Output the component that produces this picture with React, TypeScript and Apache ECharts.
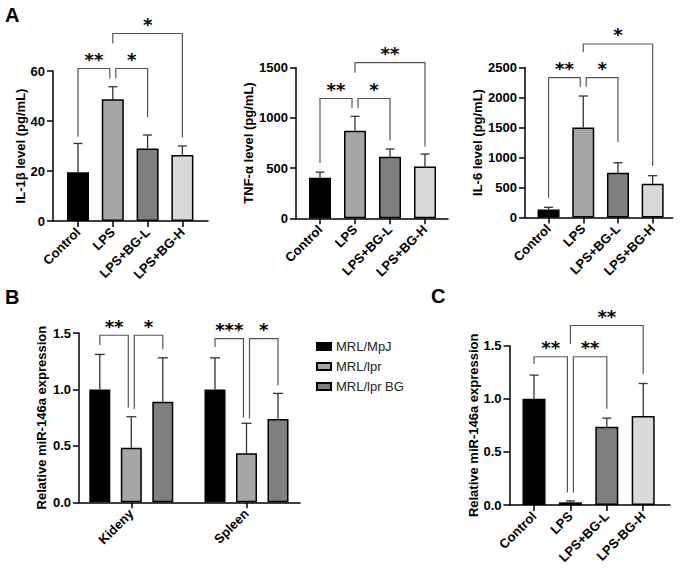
import { useEffect, useRef } from "react";
import * as echarts from "echarts";

const FONT = "'Liberation Sans', Arial, Helvetica, sans-serif";
const STAR_FONT = "'DejaVu Sans', sans-serif";

// ---- Panel A: cytokine levels ----
const groupsA = ["Control", "LPS", "LPS+BG-L", "LPS+BG-H"];
const groupFills = ["#000000", "#a6a6a6", "#7f7f7f", "#d9d9d9"];

const il1bMean = [19.5, 48.7, 29.0, 26.4];
const il1bUpper = [31.0, 53.7, 34.4, 30.0];
// [from group, to group, bracket top, from-leg end, to-leg end]
const il1bBrackets = [
  [0, 1, 61, 33.7, 57],
  [1, 2, 61, 57, 41.5],
  [1, 3, 75, 71, 33.5],
];
const il1bStars = ["**", "*", "*"];

const tnfMean = [405, 873, 613, 516];
const tnfUpper = [460, 1016, 690, 640];
const tnfBrackets = [
  [0, 1, 1193, 550, 1100],
  [1, 2, 1193, 1100, 776],
  [1, 3, 1550, 1450, 716],
];
const tnfStars = ["**", "*", "**"];

const il6Mean = [135, 1500, 747, 563];
const il6Upper = [170, 2025, 913, 697];
const il6Brackets = [
  [0, 1, 2330, 330, 2180],
  [1, 2, 2330, 2180, 1253],
  [1, 3, 2892, 2753, 858],
];
const il6Stars = ["**", "*", "*"];

// ---- Panel B: miR-146a in tissues ----
const tissues = ["Kideny", "Spleen"];
const strains = ["MRL/MpJ", "MRL/lpr", "MRL/lpr BG"];
const strainFills = ["#000000", "#a6a6a6", "#7f7f7f"];
const mpjMean = [1.0, 1.0];
const mpjUpper = [1.31, 1.28];
const lprMean = [0.483, 0.434];
const lprUpper = [0.758, 0.7];
const lprBgMean = [0.89, 0.737];
const lprBgUpper = [1.28, 0.965];
// [tissue, from strain, to strain, bracket top, from-leg end, to-leg end]
const tissueBrackets = [
  [0, 0, 1, 1.48, 1.392, 0.84],
  [0, 1, 2, 1.48, 0.826, 1.357],
  [1, 0, 1, 1.45, 1.377, 0.752],
  [1, 1, 2, 1.45, 0.743, 1.038],
];
const tissueStars = ["**", "*", "***", "*"];

// ---- Panel C: miR-146a in cells ----
const groupsC = ["Control", "LPS", "LPS+BG-L", "LPS-BG-H"];
const mirMean = [1.0, 0.025, 0.736, 0.837];
const mirUpper = [1.223, 0.038, 0.818, 1.144];
const mirBrackets = [
  [0, 1, 1.396, 1.327, 0.117],
  [1, 2, 1.396, 0.117, 0.907],
  [1, 3, 1.69, 1.517, 1.232],
];
const mirStars = ["**", "**", "**"];

type Box = { left: number; right: number; top: number; bottom: number; dataLeft: number; dataRight: number };

type Bracket = { c1: number; s1: number; c2: number; s2: number; top: number; l1: number; l2: number };

function buildOption() {
  const grid: any[] = [];
  const xAxis: any[] = [];
  const yAxis: any[] = [];
  const series: any[] = [];

  const lineStyle = { color: "#000", width: 1.5 };

  function addPanel(
    box: Box,
    cats: string[],
    max: number,
    interval: number,
    digits: number,
    name: string,
    nameGap: number
  ) {
    const frameIdx = grid.length;
    grid.push({ left: box.left, top: box.top, width: box.right - box.left, height: box.bottom - box.top });
    grid.push({ left: box.dataLeft, top: box.top, width: box.dataRight - box.dataLeft, height: box.bottom - box.top });
    // frame axes: baseline and value axis
    xAxis.push({
      gridIndex: frameIdx,
      type: "value",
      min: 0,
      max: 1,
      axisLine: { show: true, onZero: false, lineStyle },
      axisTick: { show: false },
      axisLabel: { show: false },
      splitLine: { show: false },
    });
    yAxis.push({
      gridIndex: frameIdx,
      type: "value",
      min: 0,
      max,
      interval,
      name,
      nameLocation: "middle",
      nameGap,
      nameTextStyle: { fontFamily: FONT, fontWeight: "bold", fontSize: 13, color: "#000" },
      axisLine: { show: true, lineStyle },
      axisTick: { show: true, length: 6, lineStyle },
      axisLabel: {
        fontFamily: FONT,
        fontWeight: "bold",
        fontSize: 13,
        color: "#000",
        margin: 8,
        formatter: (v: number) => v.toFixed(digits),
      },
      splitLine: { show: false },
    });
    // data axes: categories and hidden value scale
    xAxis.push({
      gridIndex: frameIdx + 1,
      type: "category",
      data: cats,
      axisLine: { show: false },
      axisTick: { show: true, alignWithLabel: true, length: 6, lineStyle },
      axisLabel: {
        interval: 0,
        rotate: 45,
        fontFamily: FONT,
        fontWeight: "bold",
        fontSize: 13,
        color: "#000",
        margin: 9,
      },
      splitLine: { show: false },
    });
    yAxis.push({ gridIndex: frameIdx + 1, type: "value", min: 0, max, show: false });
    return frameIdx + 1;
  }

  function errorSeries(axis: number, mean: number[], upper: number[], offset: number, cap: number) {
    return {
      type: "custom",
      xAxisIndex: axis,
      yAxisIndex: axis,
      silent: true,
      z: 1,
      data: mean.map((m, i) => [i, m, upper[i]]),
      renderItem: (params: any, api: any) => {
        const i = params.dataIndex;
        const base = api.coord([i, mean[i]]);
        const top = api.coord([i, upper[i]]);
        const x = base[0] + offset;
        const style = { stroke: "#333", lineWidth: 1.3 };
        return {
          type: "group",
          children: [
            { type: "line", shape: { x1: x, y1: base[1], x2: x, y2: top[1] }, style },
            { type: "line", shape: { x1: x - cap / 2, y1: top[1], x2: x + cap / 2, y2: top[1] }, style },
          ],
        };
      },
    };
  }

  function bracketSeries(axis: number, items: Bracket[], stars: string[], step: number) {
    const nudges = items.map(() => [0, 0]);
    items.forEach((a, i) =>
      items.forEach((b, j) => {
        if (i !== j && a.top === b.top && a.c2 === b.c1 && a.s2 === b.s1) {
          nudges[i][1] = -3;
          nudges[j][0] = 3;
        }
      })
    );
    return {
      type: "custom",
      xAxisIndex: axis,
      yAxisIndex: axis,
      silent: true,
      clip: false,
      z: 4,
      data: items.map((b) => [b.c1, b.top]),
      renderItem: (params: any, api: any) => {
        const k = params.dataIndex;
        const b = items[k];
        const top = api.coord([b.c1, b.top]);
        const x1 = top[0] + b.s1 * step + nudges[k][0];
        const x2 = api.coord([b.c2, b.top])[0] + b.s2 * step + nudges[k][1];
        const y1 = api.coord([b.c1, b.l1])[1];
        const y2 = api.coord([b.c2, b.l2])[1];
        const yT = top[1];
        return {
          type: "group",
          children: [
            {
              type: "polyline",
              shape: { points: [[x1, y1], [x1, yT], [x2, yT], [x2, y2]] },
              style: { stroke: "#555", fill: null, lineWidth: 1.2 },
            },
            {
              type: "text",
              x: (x1 + x2) / 2,
              y: yT - 9,
              style: {
                text: stars[k],
                align: "center",
                verticalAlign: "middle",
                fontFamily: STAR_FONT,
                fontWeight: "bold",
                fontSize: 18,
                fill: "#000",
              },
            },
          ],
        };
      },
    };
  }

  const simple = (rows: number[][]): Bracket[] =>
    rows.map((r) => ({ c1: r[0], s1: 0, c2: r[1], s2: 0, top: r[2], l1: r[3], l2: r[4] }));

  function groupPanel(
    box: Box,
    cats: string[],
    mean: number[],
    upper: number[],
    brackets: number[][],
    stars: string[],
    max: number,
    interval: number,
    digits: number,
    name: string,
    nameGap: number,
    barWidth: number
  ) {
    const axis = addPanel(box, cats, max, interval, digits, name, nameGap);
    series.push({
      type: "bar",
      xAxisIndex: axis,
      yAxisIndex: axis,
      silent: true,
      barWidth,
      z: 2,
      itemStyle: { borderColor: "#000", borderWidth: 1.5 },
      data: mean.map((v, i) => ({ value: v, itemStyle: { color: groupFills[i] } })),
    });
    series.push(errorSeries(axis, mean, upper, 0, 9));
    series.push(bracketSeries(axis, simple(brackets), stars, 0));
  }

  groupPanel(
    { left: 53, right: 208, top: 71, bottom: 221, dataLeft: 60.6, dataRight: 199.8 },
    groupsA, il1bMean, il1bUpper, il1bBrackets, il1bStars, 60, 20, 0, "IL-1β level (pg/mL)", 24, 22
  );
  groupPanel(
    { left: 296, right: 448, top: 67.7, bottom: 218.3, dataLeft: 302.5, dataRight: 442.5 },
    groupsA, tnfMean, tnfUpper, tnfBrackets, tnfStars, 1500, 500, 0, "TNF-α level (pg/mL)", 39, 22
  );
  groupPanel(
    { left: 525, right: 672.7, top: 67.5, bottom: 217.5, dataLeft: 531.2, dataRight: 670 },
    groupsA, il6Mean, il6Upper, il6Brackets, il6Stars, 2500, 500, 0, "IL-6 level (pg/mL)", 36, 22
  );

  // Panel B: grouped bars by tissue
  const axisB = addPanel(
    { left: 79, right: 300, top: 333, bottom: 502.3, dataLeft: 73.7, dataRight: 304.1 },
    tissues, 1.5, 0.5, 1, "Relative miR-146a expression", 31
  );
  const barWidthB = 21;
  const stepB = barWidthB * 1.5;
  const strainMeans = [mpjMean, lprMean, lprBgMean];
  const strainUppers = [mpjUpper, lprUpper, lprBgUpper];
  strains.forEach((s, k) => {
    series.push({
      type: "bar",
      name: s,
      xAxisIndex: axisB,
      yAxisIndex: axisB,
      silent: true,
      barWidth: barWidthB,
      barGap: "50%",
      z: 2,
      itemStyle: { color: strainFills[k], borderColor: "#000", borderWidth: 1.5 },
      data: strainMeans[k],
    });
    series.push(errorSeries(axisB, strainMeans[k], strainUppers[k], (k - 1) * stepB, 10));
  });
  series.push(
    bracketSeries(
      axisB,
      tissueBrackets.map((r) => ({ c1: r[0], s1: r[1] - 1, c2: r[0], s2: r[2] - 1, top: r[3], l1: r[4], l2: r[5] })),
      tissueStars,
      stepB
    )
  );

  groupPanel(
    { left: 509.5, right: 670, top: 345.7, bottom: 505, dataLeft: 515.8, dataRight: 661.4 },
    groupsC, mirMean, mirUpper, mirBrackets, mirStars, 1.5, 0.5, 1, "Relative miR-146a expression", 25, 23
  );

  return {
    animation: false,
    backgroundColor: "#fff",
    textStyle: { fontFamily: FONT },
    grid,
    xAxis,
    yAxis,
    series,
    legend: {
      data: strains,
      orient: "vertical",
      left: 311,
      top: 335,
      icon: "rect",
      itemWidth: 14,
      itemHeight: 7,
      itemGap: 7,
      selectedMode: false,
      textStyle: { fontFamily: FONT, fontSize: 13, color: "#222" },
    },
    graphic: [
      { type: "text", x: 5, y: 5, style: { text: "A", fontFamily: FONT, fontWeight: "bold", fontSize: 20, fill: "#000" } },
      { type: "text", x: 5, y: 287, style: { text: "B", fontFamily: FONT, fontWeight: "bold", fontSize: 20, fill: "#000" } },
      { type: "text", x: 431, y: 286, style: { text: "C", fontFamily: FONT, fontWeight: "bold", fontSize: 20, fill: "#000" } },
    ],
  };
}

export default function App() {
  const ref = useRef<HTMLDivElement>(null);
  useEffect(() => {
    const chart = echarts.init(ref.current!, null, { renderer: "svg" });
    chart.setOption(buildOption() as any);
    return () => chart.dispose();
  }, []);
  return (
    <div
      ref={ref}
      style={{ position: "absolute", left: 0, top: 0, width: 680, height: 569, background: "#fff" }}
    />
  );
}
